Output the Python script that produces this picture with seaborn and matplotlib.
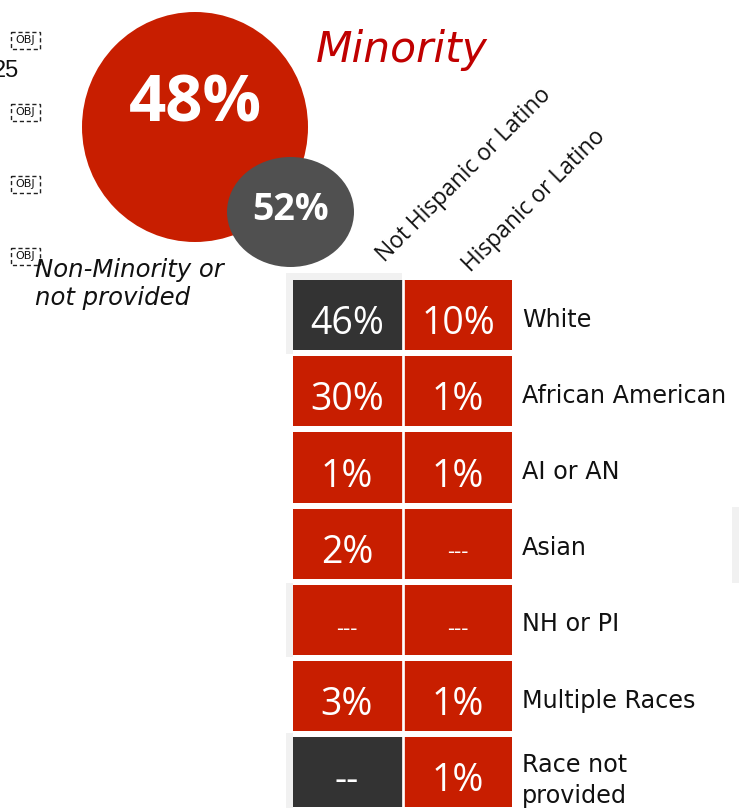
import numpy as np
import pandas as pd
import matplotlib
matplotlib.use("Agg")
import matplotlib.pyplot as plt
from matplotlib.colors import ListedColormap
from matplotlib.patches import Ellipse, Rectangle
from matplotlib.transforms import ScaledTranslation
import seaborn as sns

# ---------------- data ----------------
races = ["White", "African American", "AI or AN", "Asian", "NH or PI",
         "Multiple Races", "Race not\nprovided"]
ethnicities = ["Not Hispanic or Latino", "Hispanic or Latino"]
not_hispanic_labels = ["46%", "30%", "1%", "2%", "---", "3%", "--"]
hispanic_labels = ["10%", "1%", "1%", "---", "---", "1%", "1%"]
# 1 = non-minority (dark cell), 0 = minority (red cell)
not_hispanic_group = [1, 0, 0, 0, 0, 0, 1]
hispanic_group = [0, 0, 0, 0, 0, 0, 0]
minority_label = "48%"
non_minority_label = "52%"
obj_markers = ["OBJ", "OBJ", "OBJ", "OBJ"]

RED = "#C81E00"
DARK = "#333333"
GREY = "#505050"
TITLE_RED = "#C00000"
SHADOW = "#F1F1F1"

sns.set_style("white")
plt.rcParams["font.family"] = ["DejaVu Sans"]

W, H = 742, 808
fig = plt.figure(figsize=(W / 100, H / 100), dpi=100)

# overlay axes in pixel coordinates (behind the grid)
ov = fig.add_axes([0, 0, 1, 1])
ov.set_xlim(0, W)
ov.set_ylim(H, 0)
ov.axis("off")

# faint shadows
for (x0, y0, w, h) in [(286, 273, 116, 7), (286, 273, 7, 81), (286, 583, 7, 74),
                       (286, 733, 7, 75), (732, 507, 7, 76)]:
    ov.add_patch(Rectangle((x0, y0), w, h, fc=SHADOW, ec="none", zorder=0))

# circles
ov.add_patch(Ellipse((195, 127), 226, 230, fc=RED, ec="none", zorder=2))
ov.add_patch(Ellipse((290.5, 212), 127, 110, fc=GREY, ec="none", zorder=3))
ov.text(195, 105, minority_label, ha="center", va="center", color="white",
        fontsize=47, fontweight="bold", fontfamily="Open Sans", zorder=4)
ov.text(291, 210, non_minority_label, ha="center", va="center", color="white",
        fontsize=27, fontweight="bold", fontfamily="Open Sans", zorder=4)

ov.text(316, 62, "Minority", ha="left", va="baseline", color=TITLE_RED,
        fontsize=30.5, style="italic")
ov.text(35, 277, "Non-Minority or", ha="left", va="baseline", color="#111111",
        fontsize=17.6, style="italic")
ov.text(35, 305, "not provided", ha="left", va="baseline", color="#111111",
        fontsize=17.6, style="italic")

ov.text(19, 77, "25", ha="right", va="baseline", fontsize=17,
        fontfamily="Liberation Sans", color="#111111")
for yc, lab in zip([40, 112, 184, 256], obj_markers):
    ov.add_patch(Rectangle((10.5, yc - 8.5), 29, 17, fc="none", ec="#222222",
                           ls=(0, (3, 2)), lw=1.0))
    ov.text(25, yc, lab, ha="center", va="center", fontsize=8, color="#111111")

# ---------------- heatmap grid ----------------
left, right, top, bottom = 292.65, 512.35, 280.0, 807.4
ax = fig.add_axes([left / W, (H - bottom) / H, (right - left) / W, (bottom - top) / H])
ax.set_facecolor("none")

group = pd.DataFrame({ethnicities[0]: not_hispanic_group,
                      ethnicities[1]: hispanic_group}, index=races)
annot = pd.DataFrame({ethnicities[0]: not_hispanic_labels,
                      ethnicities[1]: hispanic_labels}, index=races).values

cmap = ListedColormap([RED, DARK])
sns.heatmap(group, ax=ax, cmap=cmap, vmin=0, vmax=1, cbar=False,
            annot=annot, fmt="", linewidths=0,
            annot_kws=dict(color="white", fontsize=27, fontfamily="Open Sans"))

hx = 1.35 / 111.2
hy = 3.0 / 76.2
ax.set_xlim(hx, len(ethnicities) - hx)
ax.set_ylim(len(races) - hy, hy)
for i in range(1, len(races)):
    ax.axhline(i, color="white", lw=6 * 0.72, zorder=5)
for j in range(1, len(ethnicities)):
    ax.axvline(j, color="white", lw=2.7 * 0.72, zorder=5)

for t in ax.texts:
    x, y = t.get_position()
    t.set_position((x, y + 0.12))
    if t.get_text() == "---":
        t.set_fontsize(16)

# row labels on the right
ax.yaxis.tick_right()
ax.set_yticks(np.arange(len(races)) + 0.5)
ax.set_yticklabels(races, rotation=0, fontsize=17.2, ha="left",
                   fontfamily="DejaVu Sans", color="#111111", linespacing=1.4)
ax.tick_params(axis="y", length=0, pad=7)
for lab in ax.get_yticklabels():
    lab.set_transform(lab.get_transform() +
                      ScaledTranslation(0, -2 / 100, fig.dpi_scale_trans))

# column labels on top, rotated
ax.xaxis.tick_top()
ax.set_xticks(np.arange(len(ethnicities)) + 0.5)
ax.set_xticklabels(ethnicities, rotation=45, ha="left", va="baseline",
                   rotation_mode="anchor", fontsize=16.4, fontfamily="Open Sans",
                   color="#111111")
ax.tick_params(axis="x", length=0, pad=0)
offsets = [(38, 17), (13, 7)]
for lab, (dx, dy) in zip(ax.get_xticklabels(), offsets):
    lab.set_transform(lab.get_transform() +
                      ScaledTranslation(dx / 100, dy / 100, fig.dpi_scale_trans))
ax.set_xlabel("")
ax.set_ylabel("")
for s in ax.spines.values():
    s.set_visible(False)

fig.savefig("out.png", dpi=100)
